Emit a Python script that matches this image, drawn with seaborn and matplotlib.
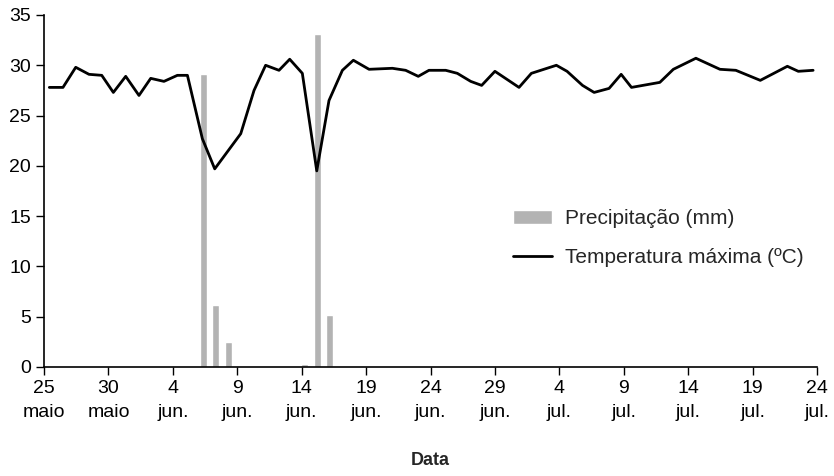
import numpy as np
import matplotlib
matplotlib.use("Agg")
import matplotlib.pyplot as plt
import seaborn as sns

# days counted from 25 maio (0 = 25 maio, 60 = 24 jul.)
temp_days = [0.41, 1.47, 2.46, 3.49, 4.48, 5.38, 6.34, 7.37, 8.28, 9.31, 10.35, 11.13,
             12.29, 13.25, 15.27, 16.3, 17.2, 18.24, 19.07, 20.05, 21.17, 22.12, 23.16,
             24.01, 25.23, 27.04, 28.07, 29.05, 29.88, 31.18, 32.08, 33.12, 33.97, 35.0,
             36.87, 37.83, 39.77, 40.6, 41.8, 42.7, 43.86, 44.8, 45.6, 47.8, 48.85, 50.6,
             52.47, 53.7, 55.6, 57.7, 58.55, 59.7]
temp_max = [27.8, 27.8, 29.8, 29.1, 29.0, 27.3, 28.9, 27.0, 28.7, 28.4, 29.0, 29.0,
            22.7, 19.7, 23.2, 27.5, 30.0, 29.5, 30.6, 29.2, 19.5, 26.5, 29.5,
            30.5, 29.6, 29.7, 29.5, 28.9, 29.5, 29.5, 29.2, 28.4, 28.0, 29.4,
            27.8, 29.2, 30.0, 29.4, 28.0, 27.3, 27.7, 29.1, 27.8, 28.3, 29.6, 30.7,
            29.6, 29.5, 28.5, 29.9, 29.4, 29.5]

prec_days = [12.38, 13.3, 14.3, 20.2, 21.23, 22.15]
prec_mm = [29.1, 6.2, 2.5, 0.3, 33.1, 5.2]

tick_days = list(range(0, 61, 5))
tick_labels = ["25\nmaio", "30\nmaio", "4\njun.", "9\njun.", "14\njun.", "19\njun.",
               "24\njun.", "29\njun.", "4\njul.", "9\njul.", "14\njul.", "19\njul.", "24\njul."]

sns.set_style("ticks")
plt.rcParams['font.family'] = ['Liberation Sans', 'DejaVu Sans']

fig, ax = plt.subplots(figsize=(8.34, 4.76), dpi=100)
fig.subplots_adjust(left=0.0528, right=0.9796, bottom=0.229, top=0.9685)

ax.bar(prec_days, prec_mm, width=0.55, color="#b3b3b3", label="Precipitação (mm)", zorder=1)
sns.lineplot(x=temp_days, y=temp_max, color="black", linewidth=2, ax=ax,
             label="Temperatura máxima (ºC)", zorder=2)

ax.set_xlim(0, 60)
ax.set_ylim(0, 35)
ax.set_yticks(range(0, 36, 5))
ax.set_xticks(tick_days)
ax.set_xticklabels(tick_labels, linespacing=1.55)
ax.tick_params(labelsize=14, direction="out", length=6, width=1, colors="black")
ax.set_xlabel("Data", fontsize=13, fontweight="bold", labelpad=22)
sns.despine(ax=ax)
for s in ["left", "bottom"]:
    ax.spines[s].set_linewidth(1.2)
    ax.spines[s].set_color("black")

handles, labels = ax.get_legend_handles_labels()
order = [labels.index("Precipitação (mm)"), labels.index("Temperatura máxima (ºC)")]
ax.legend([handles[i] for i in order], [labels[i] for i in order],
          loc="upper left", bbox_to_anchor=(0.593, 0.478), frameon=False, fontsize=15,
          handlelength=1.9, handletextpad=0.6, labelspacing=0.95, borderpad=0)

fig.savefig("out.png", dpi=100)
